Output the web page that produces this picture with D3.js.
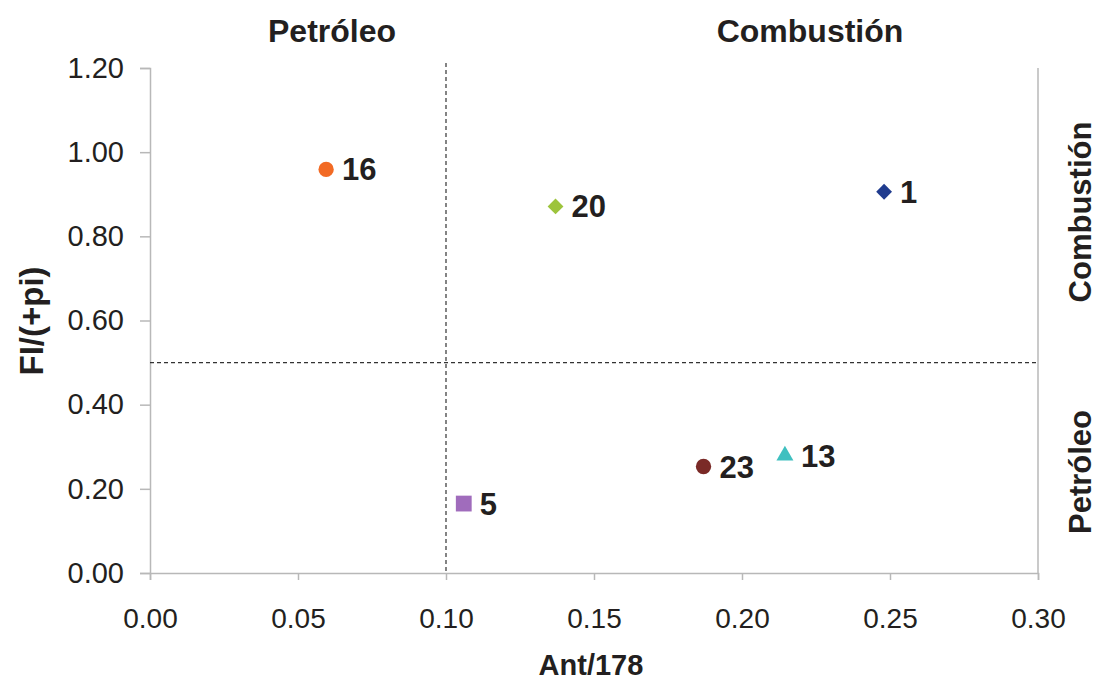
<!DOCTYPE html>
<html>
<head>
<meta charset="utf-8">
<script src="https://cdn.jsdelivr.net/npm/d3@7"></script>
<style>
  body { margin: 0; background: #fff; }
  text { fill: #231f20; }
</style>
</head>
<body>
<svg class="MainSvg"></svg>
<script>
    // muestras: Ant/178 vs FI/(FI+pi)
    var ids = ["16", "20", "1", "5", "23", "13"];
    var antValues = [0.0595, 0.137, 0.248, 0.106, 0.187, 0.2145];
    var fiValues = [0.959, 0.871, 0.906, 0.165, 0.253, 0.279];
    var shapes = ["circle", "diamond", "diamond", "square", "circle", "triangle"];
    var colors = ["#f26a24", "#9dc43c", "#1f3b8e", "#a06cbc", "#7a2a27", "#3fc0c0"];
    var xTicks = [0, 0.05, 0.10, 0.15, 0.20, 0.25, 0.30];
    var yTicks = [0, 0.20, 0.40, 0.60, 0.80, 1.00, 1.20];
    var xCut = 0.10, yCut = 0.50;

    var width = 1099, height = 685;
    var margin = { top: 68, right: 61, bottom: 112, left: 150 };
    var font = "'Liberation Sans', Arial";

    var svg = d3.select(".MainSvg").attr("width", width).attr("height", height);

    var x = d3.scaleLinear().domain([0, 0.30]).range([margin.left, width - margin.right]);
    var y = d3.scaleLinear().domain([0, 1.20]).range([height - margin.bottom, margin.top]);

    var xAxis = d3.axisBottom(x).tickValues(xTicks).tickFormat(d3.format(".2f")).tickSize(7).tickPadding(28);
    var yAxis = d3.axisLeft(y).tickValues(yTicks).tickFormat(d3.format(".2f")).tickSize(10).tickPadding(16);

    var gx = svg.append("g")
        .attr("transform", "translate(0," + y(0) + ")")
        .call(xAxis);
    gx.selectAll("text")
        .style("font-family", font)
        .style("font-size", "28px")
        .attr("fill", "#231f20");

    var gy = svg.append("g")
        .attr("transform", "translate(" + x(0) + ",0)")
        .call(yAxis);
    gy.selectAll("text")
        .style("font-family", font)
        .style("font-size", "29px")
        .attr("fill", "#231f20");

    svg.selectAll(".domain, .tick line").attr("stroke", "#b8b8b8").attr("stroke-width", 1.5);

    // borde derecho
    svg.append("line")
        .attr("x1", x(0.30)).attr("x2", x(0.30))
        .attr("y1", y(1.20)).attr("y2", y(0))
        .attr("stroke", "#b8b8b8").attr("stroke-width", 1.5);

    // líneas de corte
    svg.append("line")
        .attr("x1", x(xCut)).attr("x2", x(xCut))
        .attr("y1", y(1.212)).attr("y2", y(0))
        .attr("stroke", "#333").attr("stroke-width", 1.2).attr("stroke-dasharray", "4,3");
    svg.append("line")
        .attr("x1", x(0)).attr("x2", x(0.30))
        .attr("y1", y(yCut)).attr("y2", y(yCut))
        .attr("stroke", "#333").attr("stroke-width", 1.2).attr("stroke-dasharray", "4,3");

    var symbolTypes = {
        circle: d3.symbolCircle,
        diamond: d3.symbolSquare,
        square: d3.symbolSquare,
        triangle: d3.symbolTriangle
    };
    var symbolSizes = { circle: 185, diamond: 125, square: 250, triangle: 125 };

    var pts = ids.map(function (id, i) {
        return { id: id, ant: antValues[i], fi: fiValues[i], shape: shapes[i], color: colors[i] };
    });

    svg.selectAll("path.pt")
        .data(pts)
        .enter()
        .append("path")
        .attr("class", "pt")
        .attr("transform", function (d) {
            return "translate(" + x(d.ant) + "," + y(d.fi) + ")" + (d.shape == "diamond" ? " rotate(45)" : "");
        })
        .attr("d", function (d) { return d3.symbol().type(symbolTypes[d.shape]).size(symbolSizes[d.shape])(); })
        .attr("fill", function (d) { return d.color; });

    svg.selectAll("text.lbl")
        .data(pts)
        .enter()
        .append("text")
        .attr("class", "lbl")
        .attr("x", function (d) { return x(d.ant) + 16; })
        .attr("y", function (d) { return y(d.fi) + 11; })
        .style("font-family", font)
        .style("font-weight", "bold")
        .style("font-size", "31px")
        .text(function (d) { return d.id; });

    // títulos
    svg.append("text")
        .attr("x", 591).attr("y", 675)
        .attr("text-anchor", "middle")
        .style("font-family", font)
        .style("font-weight", "bold").style("font-size", "29px")
        .text("Ant/178");

    svg.append("text")
        .attr("transform", "translate(43,321) rotate(-90)")
        .attr("text-anchor", "middle")
        .style("font-family", font)
        .style("font-weight", "bold").style("font-size", "33px")
        .text("FI/(+pi)");

    svg.append("text")
        .attr("x", 332).attr("y", 42)
        .attr("text-anchor", "middle")
        .style("font-family", font)
        .style("font-weight", "bold").style("font-size", "32px")
        .text("Petróleo");
    svg.append("text")
        .attr("x", 810).attr("y", 42)
        .attr("text-anchor", "middle")
        .style("font-family", font)
        .style("font-weight", "bold").style("font-size", "32px")
        .text("Combustión");

    svg.append("text")
        .attr("transform", "translate(1091,212) rotate(-90)")
        .attr("text-anchor", "middle")
        .style("font-family", font)
        .style("font-weight", "bold").style("font-size", "31px")
        .text("Combustión");
    svg.append("text")
        .attr("transform", "translate(1091,472) rotate(-90)")
        .attr("text-anchor", "middle")
        .style("font-family", font)
        .style("font-weight", "bold").style("font-size", "31px")
        .text("Petróleo");
</script>
</body>
</html>
